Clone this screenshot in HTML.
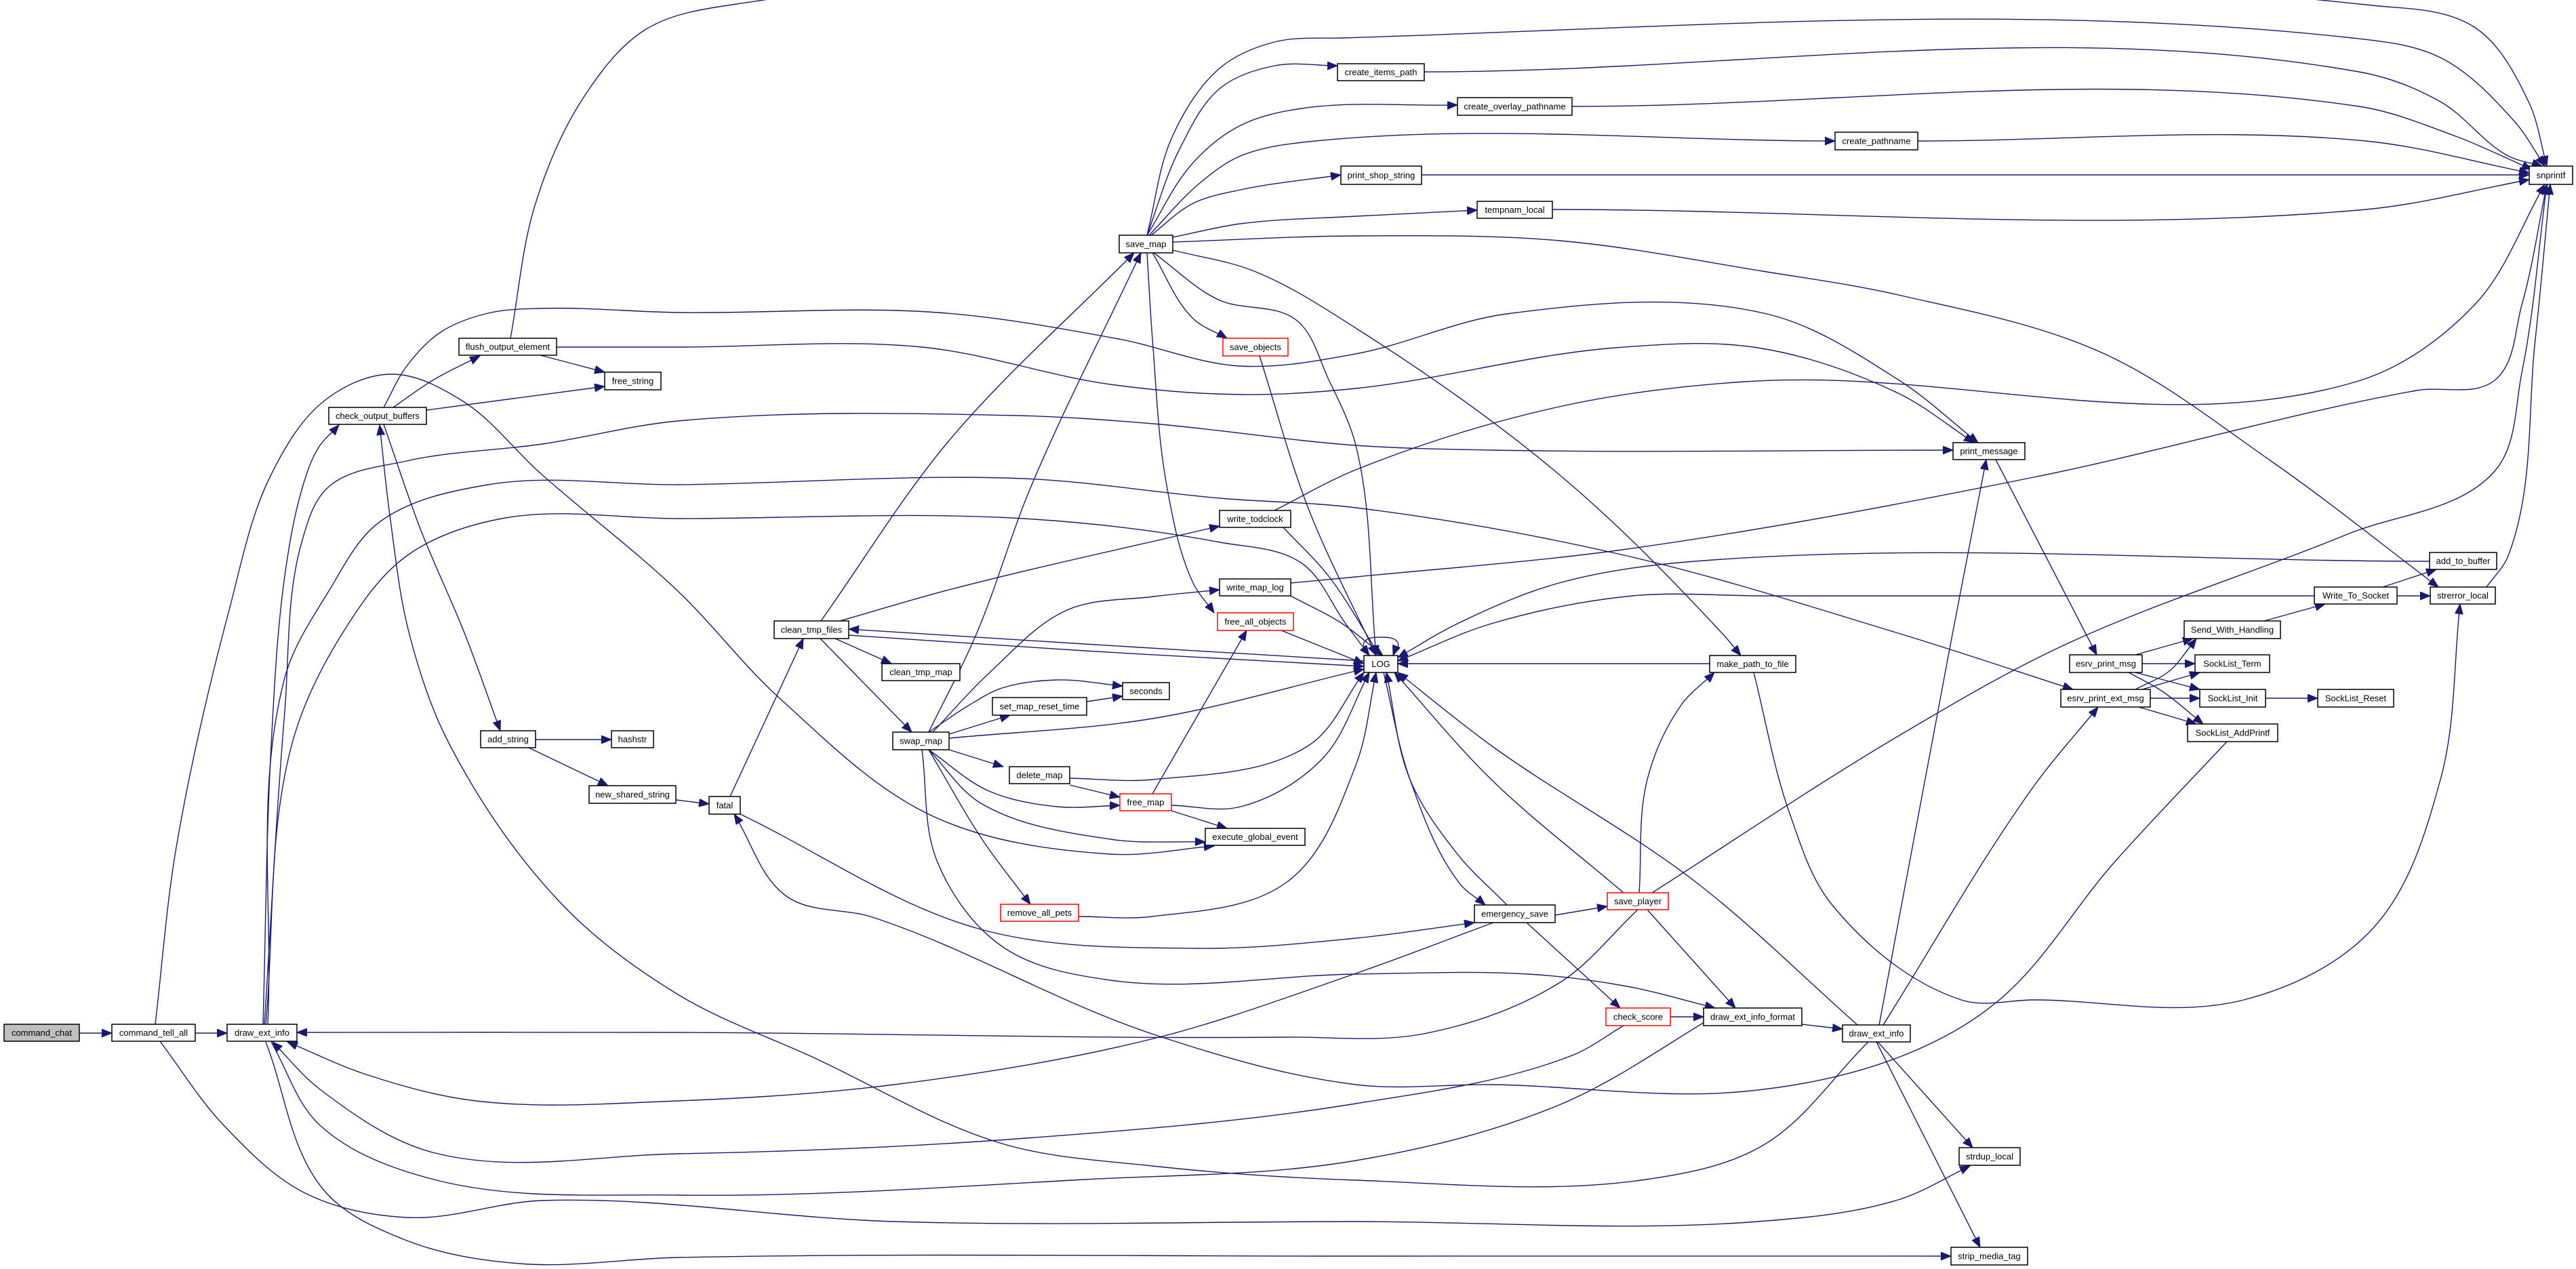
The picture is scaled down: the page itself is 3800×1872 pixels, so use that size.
<!DOCTYPE html>
<html><head><meta charset="utf-8"><style>
html,body{margin:0;padding:0;background:#fff}
svg{display:block}
text{font-family:"Liberation Sans",sans-serif;font-size:13px;fill:#000}
</style></head><body>
<svg id="g" width="3800" height="1872" viewBox="0 0 3800 1872" xmlns="http://www.w3.org/2000/svg">
<defs><marker id="a" markerUnits="userSpaceOnUse" markerWidth="18" markerHeight="14" refX="15" refY="6" orient="auto"><path d="M0,0 L15,6 L0,12 z" fill="#191970" stroke="#191970"/></marker></defs>
<g id="edges" fill="none" stroke="#191970" stroke-width="1.4"></g>
<g id="nodes"></g>
</svg>
<script>
var N=[
["command_chat",6,117,1511,1536,"g"],["command_tell_all",165,288,1511,1536],["draw_ext_info",335,438,1511,1536],
["add_string",709,790,1078,1103],["hashstr",902,964,1078,1103],["new_shared_string",869,997,1159,1185],
["flush_output_element",677,821,499,524],["free_string",892,975,549,575],["check_output_buffers",485,629,601,626],
["save_map",1651,1730,347,373],["create_items_path",1973,2101,94,119],["print_shop_string",1978,2097,245,272],
["save_objects",1804,1900,499,525,"r"],["write_todclock",1799,1904,753,778],["write_map_log",1799,1904,854,879],
["free_all_objects",1796,1908,904,930,"r"],["clean_tmp_files",1142,1252,916,942],["clean_tmp_map",1301,1416,979,1004],
["seconds",1656,1725,1007,1032],["set_map_reset_time",1464,1603,1029,1055],["swap_map",1317,1400,1080,1106],
["delete_map",1489,1578,1131,1156],["fatal",1046,1092,1175,1201],["free_map",1652,1728,1171,1196,"r"],
["execute_global_event",1778,1925,1222,1247],["remove_all_pets",1476,1591,1334,1359,"r"],
["create_overlay_pathname",2150,2319,144,170],["create_pathname",2707,2829,195,221],["tempnam_local",2179,2290,297,322],
["print_message",2881,2987,653,678],["LOG",2012,2062,967,992],["make_path_to_file",2522,2649,967,992],
["emergency_save",2175,2294,1335,1361],["save_player",2371,2461,1317,1342,"r"],["check_score",2369,2464,1487,1513,"r"],
["draw_ext_info_format",2513,2658,1487,1513],["draw_ext_info",2718,2818,1512,1537],["strdup_local",2890,2980,1693,1719],
["strip_media_tag",2878,2991,1840,1866],["snprintf",3731,3795,245,272],["add_to_buffer",3584,3683,815,840],
["Write_To_Socket",3414,3536,866,891],["strerror_local",3585,3681,866,891],["Send_With_Handling",3222,3364,916,942],
["esrv_print_msg",3053,3160,966,992],["SockList_Term",3238,3348,966,992],["esrv_print_ext_msg",3040,3172,1017,1043],
["SockList_Init",3245,3342,1017,1043],["SockList_Reset",3419,3531,1017,1043],["SockList_AddPrintf",3227,3360,1068,1094]
];
var E=[
[[117,1524],[165,1524]],[[288,1524],[335,1524]],
[[229,1511],[260,1250],[338,900],[400,700],[480,590],[577,552],[680,590],[797,698],[1000,872],[1150,1030],[1376,1204],[1638,1260],[1791,1248]],
[[236,1536],[330,1660],[450,1760],[600,1796],[800,1771],[1319,1802],[2000,1802],[2593,1802],[2800,1770],[2906,1720]],
[[388,1511],[400,1100],[420,850],[447,716],[470,660],[500,627]],
[[390,1511],[420,1050],[445,800],[485,718],[600,680],[800,655],[1000,621],[1500,613],[1700,625],[2000,657],[2200,664],[2881,664]],
[[395,1511],[420,1000],[485,872],[560,770],[720,715],[1000,715],[1510,706],[1800,735],[2000,749],[2400,820],[2800,934],[3058,1017]],
[[392,1511],[430,1100],[504,936],[600,820],[740,765],[1000,765],[1510,765],[1800,800],[1919,830],[1985,920],[2020,967]],
[[2416,1342],[2300,1450],[2100,1525],[1900,1530],[1000,1523],[438,1523]],
[[2203,1361],[2000,1436],[1702,1532],[1319,1600],[1000,1624],[702,1624],[540,1585],[424,1537]],
[[2395,1513],[2319,1557],[2000,1628],[1500,1680],[1000,1702],[638,1700],[472,1607],[402,1537]],
[[392,1537],[478,1756],[600,1830],[766,1864],[1000,1855],[2000,1853],[2878,1853]],
[[400,1537],[472,1660],[640,1740],[1000,1763],[1600,1740],[2000,1712],[2300,1630],[2549,1487]],
[[2756,1537],[2600,1690],[2421,1741],[2000,1741],[1700,1720],[1478,1687],[1200,1560],[1000,1467],[829,1334],[663,1098],[604,936],[575,760],[560,627]],
[[566,626],[620,780],[686,936],[738,1078]],
[[580,601],[640,560],[708,525]],
[[629,605],[892,570]],
[[566,601],[600,540],[650,490],[720,462],[797,455],[1000,461],[1383,461],[1650,500],[1829,540],[2000,522],[2223,463],[2606,463],[2800,560],[2918,653]],
[[797,524],[892,549]],
[[821,512],[1000,512],[1360,512],[1638,567],[1829,582],[2000,573],[2383,513],[2593,513],[2800,580],[2912,653]],
[[753,499],[790,300],[860,145],[950,45],[1060,10],[3500,8],[3650,40],[3730,150],[3757,245]],
[[1692,347],[1730,200],[1800,100],[1880,62],[1980,56],[3470,56],[3600,85],[3710,180],[3754,245]],
[[1692,347],[1740,220],[1800,130],[1880,97],[1973,97]],
[[1692,347],[1760,240],[1830,185],[1920,160],[2150,155]],
[[1695,347],[1770,270],[1830,230],[1940,208],[2707,208]],
[[1698,347],[1760,300],[1830,280],[1978,258]],
[[1730,350],[1830,330],[2000,319],[2179,310]],
[[1730,357],[2000,348],[2300,355],[2600,400],[2800,435],[3100,520],[3350,680],[3597,866]],
[[1730,369],[1850,400],[2000,484],[2300,700],[2542,936],[2568,967]],
[[1702,373],[1797,442],[1912,472],[1960,560],[2000,657],[2030,967]],
[[1692,373],[1700,500],[1721,716],[1760,860],[1791,904]],
[[1700,373],[1760,470],[1810,499]],
[[1211,916],[1400,650],[1673,373]],
[[1370,1080],[1440,936],[1520,720],[1683,373]],
[[1239,916],[1400,870],[1799,776]],
[[1232,942],[1315,979]],
[[1210,942],[1345,1080]],
[[1252,937],[1600,960],[2012,983]],
[[2012,975],[1600,950],[1252,928]],
[[1376,1080],[1459,993],[1574,900],[1702,880],[1799,870]],
[[1370,1080],[1430,1040],[1478,1015],[1560,1003],[1656,1012]],
[[1400,1083],[1490,1055]],
[[1400,1089],[1700,1060],[2012,987]],
[[1400,1106],[1480,1131]],
[[1370,1106],[1459,1167],[1560,1190],[1652,1188]],
[[1370,1106],[1447,1185],[1638,1238],[1778,1242]],
[[1370,1106],[1450,1240],[1520,1334]],
[[1360,1106],[1383,1272],[1478,1396],[1638,1446],[2000,1437],[2255,1437],[2400,1455],[2530,1487]],
[[1578,1148],[1700,1150],[1930,1100],[2012,992]],
[[1578,1158],[1652,1176]],
[[1700,1171],[1839,930]],
[[1728,1188],[1830,1190],[1950,1120],[2020,992]],
[[1728,1196],[1810,1222]],
[[1591,1352],[1700,1352],[1900,1300],[2000,1129],[2030,992]],
[[1603,1035],[1656,1027]],
[[1858,525],[1930,750],[2030,967]],
[[1893,778],[1960,850],[2035,967]],
[[1880,753],[2000,693],[2300,600],[2574,563],[3476,563],[3650,450],[3754,272]],
[[1904,879],[1980,920],[2040,967]],
[[1904,860],[2000,851],[2400,810],[3000,704],[3565,576],[3680,561],[3720,450],[3757,272]],
[[1890,930],[2012,979]],
[[2020,967],[2012,948],[2037,940],[2062,948],[2055,967]],
[[2041,992],[2080,1150],[2153,1303],[2191,1335]],
[[2223,1335],[2150,1260],[2080,1150],[2045,992]],
[[2395,1317],[2200,1150],[2057,992]],
[[2740,1512],[2500,1300],[2200,1100],[2062,992]],
[[2522,979],[2062,979]],
[[2587,992],[2640,1200],[2702,1334],[2893,1475],[3000,1475],[3310,1475],[3500,1370],[3600,1150],[3629,891]],
[[2418,1317],[2430,1150],[2480,1040],[2529,992]],
[[2430,1342],[2560,1487]],
[[2294,1350],[2371,1337]],
[[2252,1361],[2390,1487]],
[[2464,1500],[2513,1500]],
[[2658,1511],[2718,1518]],
[[2772,1512],[2880,936],[2930,678]],
[[2778,1512],[3000,1160],[3095,1043]],
[[2770,1537],[2910,1693]],
[[2768,1537],[2921,1840]],
[[2944,678],[3093,966]],
[[3150,966],[3235,942]],
[[3160,979],[3238,979]],
[[3150,992],[3245,1017]],
[[3140,992],[3190,1020],[3250,1068]],
[[3150,1017],[3200,990],[3230,955],[3240,942]],
[[3160,1017],[3245,992]],
[[3172,1030],[3245,1030]],
[[3155,1043],[3240,1068]],
[[3342,1030],[3419,1030]],
[[3340,916],[3430,891]],
[[3515,866],[3594,840]],
[[3536,879],[3585,879]],
[[3414,879],[2600,879],[2408,879],[2200,920],[2062,975]],
[[3584,828],[2500,828],[2300,860],[2150,920],[2062,970]],
[[3668,866],[3700,820],[3740,500],[3762,272]],
[[2437,1317],[2800,1086],[3042,953],[3463,788],[3680,695],[3720,550],[3757,272]],
[[1077,1175],[1185,942]],
[[1092,1201],[1447,1371],[1766,1399],[2000,1384],[2175,1361]],
[[3285,1094],[3119,1272],[2947,1477],[2800,1560],[2574,1610],[2200,1600],[2000,1600],[1702,1526],[1287,1353],[1160,1322],[1083,1201]],
[[790,1091],[902,1091]],
[[780,1103],[897,1159]],
[[997,1180],[1046,1186]],
[[2101,106],[3480,106],[3600,150],[3700,230],[3750,245]],
[[2319,157],[3480,157],[3620,200],[3735,250]],
[[2829,208],[3490,208],[3731,255]],
[[2097,258],[3731,258]],
[[2290,309],[3490,309],[3731,265]]
];
var NS="http://www.w3.org/2000/svg";
function L(a,b){return Math.hypot(b[0]-a[0],b[1]-a[1])||1;}
function tan(p,i){var n=p.length;
if(i==0){var l=L(p[0],p[1]);return [(p[1][0]-p[0][0])/l,(p[1][1]-p[0][1])/l];}
if(i==n-1){var l2=L(p[n-2],p[n-1]);return [(p[n-1][0]-p[n-2][0])/l2,(p[n-1][1]-p[n-2][1])/l2];}
var l1=L(p[i-1],p[i]),l3=L(p[i],p[i+1]);
var u=[(p[i][0]-p[i-1][0])/l1+(p[i+1][0]-p[i][0])/l3,(p[i][1]-p[i-1][1])/l1+(p[i+1][1]-p[i][1])/l3];
var m=Math.hypot(u[0],u[1])||1;return [u[0]/m,u[1]/m];}
function cr(p){var d="M"+p[0][0]+","+p[0][1];
for(var i=0;i<p.length-1;i++){var b=p[i],c=p[i+1],s=L(b,c)/3,t1=tan(p,i),t2=tan(p,i+1);
d+=" C"+(b[0]+t1[0]*s).toFixed(1)+","+(b[1]+t1[1]*s).toFixed(1)+" "+(c[0]-t2[0]*s).toFixed(1)+","+(c[1]-t2[1]*s).toFixed(1)+" "+c[0]+","+c[1];}return d;}
var ge=document.getElementById("edges");
E.forEach(function(p){var el=document.createElementNS(NS,"path");el.setAttribute("d",cr(p));el.setAttribute("marker-end","url(#a)");ge.appendChild(el);});
var gn=document.getElementById("nodes");
N.forEach(function(n){var r=document.createElementNS(NS,"rect");r.setAttribute("x",n[1]);r.setAttribute("y",n[3]);r.setAttribute("width",n[2]-n[1]);r.setAttribute("height",n[4]-n[3]);
r.setAttribute("fill",n[5]=="g"?"#bfbfbf":"#fff");r.setAttribute("stroke",n[5]=="r"?"#ff0000":"#000");r.setAttribute("stroke-width","1.5");gn.appendChild(r);
var t=document.createElementNS(NS,"text");t.setAttribute("x",(n[1]+n[2])/2);t.setAttribute("y",(n[3]+n[4])/2+4.5);t.setAttribute("text-anchor","middle");t.textContent=n[0];gn.appendChild(t);});
</script>
</body></html>
